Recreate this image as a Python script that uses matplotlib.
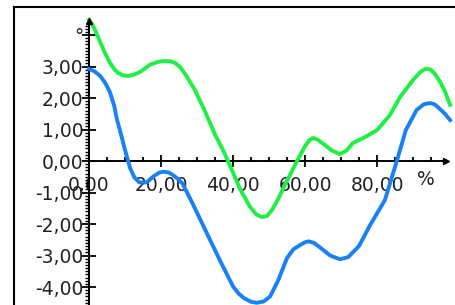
import matplotlib.pyplot as plt
from matplotlib.lines import Line2D
from matplotlib.ticker import FixedLocator

# values
green_x = [0, 0.8, 1.7, 3.0, 4.4, 5.8, 7.0, 8.0, 9.4, 10.8, 12.5, 14.2, 17.0, 19.0, 20.5, 22.5, 24.0,
           25.5, 26.7, 29.4, 32.2, 35.0, 37.2, 39.0, 42.0, 44.7, 46.5, 48.0, 49.5, 50.8, 52.5, 54.4,
           57.8, 60.0, 61.2, 62.2, 63.5, 65.5, 67.5, 69.7, 71.5, 73.3, 76.7, 80.0, 83.6, 86.4, 90.0,
           92.0, 93.3, 94.8, 96.0, 97.5, 98.9, 100.3]
green_y = [4.48, 4.35, 4.16, 3.80, 3.44, 3.12, 2.92, 2.80, 2.72, 2.70, 2.74, 2.83, 3.06, 3.14, 3.17,
           3.17, 3.11, 2.96, 2.76, 2.26, 1.58, 0.84, 0.35, -0.10, -0.90, -1.45, -1.70, -1.78, -1.74,
           -1.56, -1.22, -0.76, 0.0, 0.47, 0.66, 0.73, 0.68, 0.51, 0.33, 0.22, 0.33, 0.57, 0.76, 0.98,
           1.46, 2.03, 2.57, 2.82, 2.92, 2.91, 2.78, 2.52, 2.20, 1.78]

blue_x = [0, 1.5, 3.1, 4.5, 5.8, 7.0, 7.8, 9.0, 10.0, 11.4, 12.6, 14.0, 16.0, 18.0, 19.5, 20.6, 22.0,
          23.0, 24.5, 26.0, 29.0, 33.6, 37.0, 40.0, 41.5, 43.0, 45.0, 46.6, 48.5, 50.3, 52.5, 55.0,
          56.8, 58.6, 60.0, 61.0, 62.5, 64.0, 67.0, 69.7, 72.0, 75.0, 78.0, 82.2, 85.5, 88.0, 91.0,
          93.0, 94.7, 96.0, 97.0, 98.7, 100.3]
blue_y = [2.92, 2.85, 2.70, 2.48, 2.19, 1.75, 1.30, 0.80, 0.35, -0.22, -0.52, -0.68, -0.68, -0.48,
          -0.37, -0.34, -0.36, -0.42, -0.55, -0.72, -1.40, -2.50, -3.30, -3.98, -4.20, -4.35, -4.47,
          -4.50, -4.46, -4.30, -3.80, -3.08, -2.80, -2.67, -2.58, -2.55, -2.60, -2.73, -3.00, -3.12,
          -3.05, -2.70, -2.05, -1.24, 0.0, 0.98, 1.62, 1.80, 1.84, 1.80, 1.70, 1.52, 1.30]

x_ticks = [0, 20, 40, 60, 80]
y_ticks = [-4, -3, -2, -1, 0, 1, 2, 3, 4]


def fmt(v):
    return f"{v:.2f}".replace('.', ',')


fig = plt.figure(figsize=(4.56, 3.05), dpi=100)
ax = fig.add_axes([0, 0, 1, 1])
ax.set_xlim(-24.72, 101.94)
ax.set_ylim(-4.571, 5.111)
ax.patch.set_alpha(0)

# frame (left + top only visible)
fig.add_artist(Line2D([14 / 456, 14 / 456], [0, 1 - 7 / 305], color='black', lw=1.5,
                      transform=fig.transFigure))
fig.add_artist(Line2D([14 / 456, 1], [1 - 7 / 305, 1 - 7 / 305], color='black', lw=1.5,
                      transform=fig.transFigure))

ax.plot(green_x, green_y, color='#1ef046', lw=2.8, solid_joinstyle='round', zorder=3)
ax.plot(blue_x, blue_y, color='#1a80f5', lw=2.8, solid_joinstyle='round', zorder=3)

# axes through origin
for s in ['top', 'right']:
    ax.spines[s].set_visible(False)
ax.spines['left'].set_position(('data', 0))
ax.spines['bottom'].set_position(('data', 0))
ax.spines['left'].set_bounds(-4.571, 4.45)
ax.spines['bottom'].set_bounds(0, 99.2)
ax.spines['left'].set_linewidth(1.4)
ax.spines['bottom'].set_linewidth(1.4)
ax.plot(0, 4.45, marker='^', color='black', ms=5, clip_on=False, zorder=4)
ax.plot(99.2, 0, marker='>', color='black', ms=5, clip_on=False, zorder=4)

ax.set_xticks(x_ticks)
ax.set_xticklabels([fmt(v) for v in x_ticks])
ax.set_yticks(y_ticks)
ax.set_yticklabels([fmt(v) if v != 4 else '°' for v in y_ticks])
ax.xaxis.set_minor_locator(FixedLocator([m for m in range(5, 100, 5) if m % 20]))
ax.yaxis.set_minor_locator(FixedLocator([m / 10 for m in range(-45, 44) if m % 10]))

ax.tick_params(axis='x', which='major', direction='inout', length=8, width=1.3,
               labelsize=13.5, pad=7, labelcolor='#222222')
ax.tick_params(axis='x', which='minor', direction='in', length=3, width=1.3)
ax.tick_params(axis='y', which='major', direction='inout', length=10, width=1.3,
               labelsize=13.5, pad=-1, labelcolor='#222222')
ax.tick_params(axis='y', which='minor', direction='out', length=3, width=1.0)

ax.text(93.5, -0.28, '%', ha='center', va='top', fontsize=13.5, color='#222222')

fig.savefig('out.png', dpi=100)
